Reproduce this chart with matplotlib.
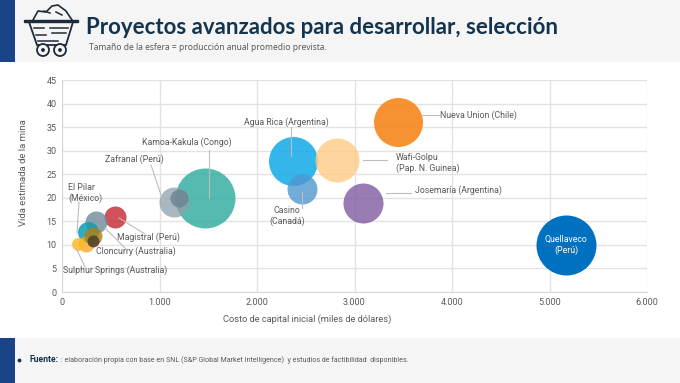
import matplotlib
matplotlib.use("Agg")
import matplotlib.pyplot as plt
from matplotlib.patches import Rectangle, Circle, Polygon

plt.rcParams['font.family'] = ['Roboto', 'DejaVu Sans']

# data
names = ["Quellaveco", "Nueva Union", "Agua Rica", "Wafi-Golpu", "Casino", "Josemaría",
         "Kamoa-Kakula", "Zafranal", "Zafranal2", "Magistral", "Otro", "El Pilar",
         "Otro3", "Sulphur Springs", "Cloncurry", "Otro2"]
capex = [5170, 3443, 2372, 2817, 2458, 3084, 1467, 1149, 1200, 544, 345, 270, 246, 165, 320, 320]
life = [10, 36, 27.9, 28, 21.9, 18.9, 19.9, 19, 20, 15.9, 14.9, 12.8, 10.2, 10.2, 11.9, 10.8]
radius_px = [30, 24.5, 24.5, 22, 15, 20, 30, 15, 9, 11, 11, 10.5, 8, 6.5, 9, 6]
colors = ["#0070C0", "#F7861C", "#12A9E8", "#FDCB85", "#4F97D0", "#7F5BA0",
          "#2BAA9E", "#8D9FAB", "#6E8492", "#C8323C", "#708A9A", "#0E9DB5",
          "#FBA92A", "#FDB92A", "#B07F10", "#4A4030"]
alphas = [1, .9, .85, .8, .8, .8, .8, .75, .8, .85, .8, .85, .8, .85, .8, .85]
xticks = [0, 1000, 2000, 3000, 4000, 5000, 6000]
xticklabels = ["0", "1.000", "2.000", "3.000", "4.000", "5.000", "6.000"]
yticks = [0, 5, 10, 15, 20, 25, 30, 35, 40, 45]

W, H = 680, 383
fig = plt.figure(figsize=(6.8, 3.83), dpi=100, facecolor="white")

bg = fig.add_axes([0, 0, 1, 1], zorder=0)
bg.set_xlim(0, W); bg.set_ylim(H, 0); bg.axis("off")
bg.add_patch(Rectangle((0, 0), W, 62, color="#F5F5F5", lw=0))
bg.add_patch(Rectangle((0, 338), W, 45, color="#F5F5F5", lw=0))
bg.add_patch(Rectangle((0, 0), 15, 62, color="#1A4488", lw=0))
bg.add_patch(Rectangle((0, 338), 15, 45, color="#1A4488", lw=0))

# main plot
ax = fig.add_axes([62 / W, 1 - 292 / H, (647 - 62) / W, (292 - 80) / H], zorder=1)
ax.set_xlim(0, 6000); ax.set_ylim(0, 45)
ax.set_facecolor("none")
ax.set_xticks(xticks); ax.set_xticklabels(xticklabels)
ax.set_yticks(yticks)
ax.grid(True, color="#E3E3E3", lw=1)
ax.set_axisbelow(True)
for s in ("top", "right"):
    ax.spines[s].set_visible(False)
for s in ("left", "bottom"):
    ax.spines[s].set_color("#D9D9D9")
ax.tick_params(length=0, labelsize=6.5, labelcolor="#595959", pad=4)
ax.set_xlabel("Costo de capital inicial (miles de dólares)", fontsize=6.7, color="#595959",
              labelpad=6, x=(307 - 62) / 585)
ax.set_ylabel("Vida estimada de la mina", fontsize=6.8, color="#595959", labelpad=13,
              y=(292 - 172.5) / 212)
for x, y, r, c, a in zip(capex, life, radius_px, colors, alphas):
    ax.scatter(x, y, s=(2 * r * 0.72) ** 2, color=c, alpha=a, linewidths=0, zorder=3, clip_on=False)

# overlay: text and leaders
ov = fig.add_axes([0, 0, 1, 1], zorder=2)
ov.set_xlim(0, W); ov.set_ylim(H, 0); ov.axis("off")

ov.text(86, 27, "Proyectos avanzados para desarrollar, selección", family="Lato", fontsize=16,
        fontweight="bold", color="#12344F", va="center")
ov.text(89, 47, "Tamaño de la esfera = producción anual promedio prevista.", family="Noto Sans",
        fontsize=6.1, color="#595959", va="center")
ov.plot([19], [360], marker="o", ms=1.8, color="#12344F")
ov.text(29, 360, "Fuente:", family="Roboto", fontsize=6.2, fontweight="bold", color="#12344F", va="center")
ov.text(61, 360, ": elaboración propia con base en SNL (S&P Global Market Intelligence)  y estudios de factibilidad  disponibles.",
        family="Roboto", fontsize=5.1, color="#595959", va="center")

labels = [
    (566, 245, "Quellaveco\n(Perú)", "white", "center"),
    (440, 115.5, "Nueva Union (Chile)", "#595959", "left"),
    (286, 122, "Agua Rica (Argentina)", "#595959", "center"),
    (396, 163, "Wafi-Golpu\n(Pap. N. Guinea)", "#595959", "left"),
    (287, 216, "Casino\n(Canadá)", "#595959", "center"),
    (415, 190.5, "Josemaría (Argentina)", "#595959", "left"),
    (187, 142.5, "Kamoa-Kakula (Congo)", "#595959", "center"),
    (134, 159, "Zafranal (Perú)", "#595959", "center"),
    (68, 193, "El Pilar\n(México)", "#595959", "left"),
    (117, 237.5, "Magistral (Perú)", "#595959", "left"),
    (96, 251.5, "Cloncurry (Australia)", "#595959", "left"),
    (63, 270, "Sulphur Springs (Australia)", "#595959", "left"),
]
for x, y, t, c, ha in labels:
    ov.text(x, y, t, fontsize=6.3, color=c, ha=ha, va="center", linespacing=1.25)

leaders = [
    ([422, 440], [115, 115]), ([291, 291], [127, 156]), ([363, 387], [160, 160]),
    ([302, 302], [192, 208]), ([386, 411], [193, 193]), ([209, 209], [150, 198]),
    ([151, 163], [165, 201]), ([79, 77], [202, 233]), ([119, 145], [218, 234]),
    ([105, 127], [228, 250]), ([76, 85], [248, 267]),
]
for xs, ys in leaders:
    ov.plot(xs, ys, color="#BDBDBD", lw=0.8, zorder=5)

# mine cart icon
k = "#1E2A38"
ov.add_patch(Polygon([(24, 20), (78, 20), (78, 22), (24, 22)], closed=True, fc=k, ec=k, lw=1))
ov.add_patch(Polygon([(29, 22), (73, 22), (66, 45), (37, 45)], closed=True, fc="none", ec=k, lw=1.3))
ov.plot([33, 38, 46, 52, 58, 66, 72], [20, 11, 12, 6, 5, 11, 20], color=k, lw=1.2)
for xs, ys in [([34, 44], [28, 28]), ([50, 68], [28, 28]), ([36, 46], [35, 35]), ([52, 66], [33, 33]),
               ([38, 58], [41, 41]), ([44, 50], [11, 13]), ([56, 62], [12, 15])]:
    ov.plot(xs, ys, color=k, lw=1.1)
ov.add_patch(Circle((43, 50), 6, fc="#F5F5F5", ec=k, lw=1.3))
ov.add_patch(Circle((60, 50), 6, fc="#F5F5F5", ec=k, lw=1.3))
ov.add_patch(Circle((43, 50), 1.2, color=k))
ov.add_patch(Circle((60, 50), 1.2, color=k))

fig.savefig("out.png", dpi=100)
